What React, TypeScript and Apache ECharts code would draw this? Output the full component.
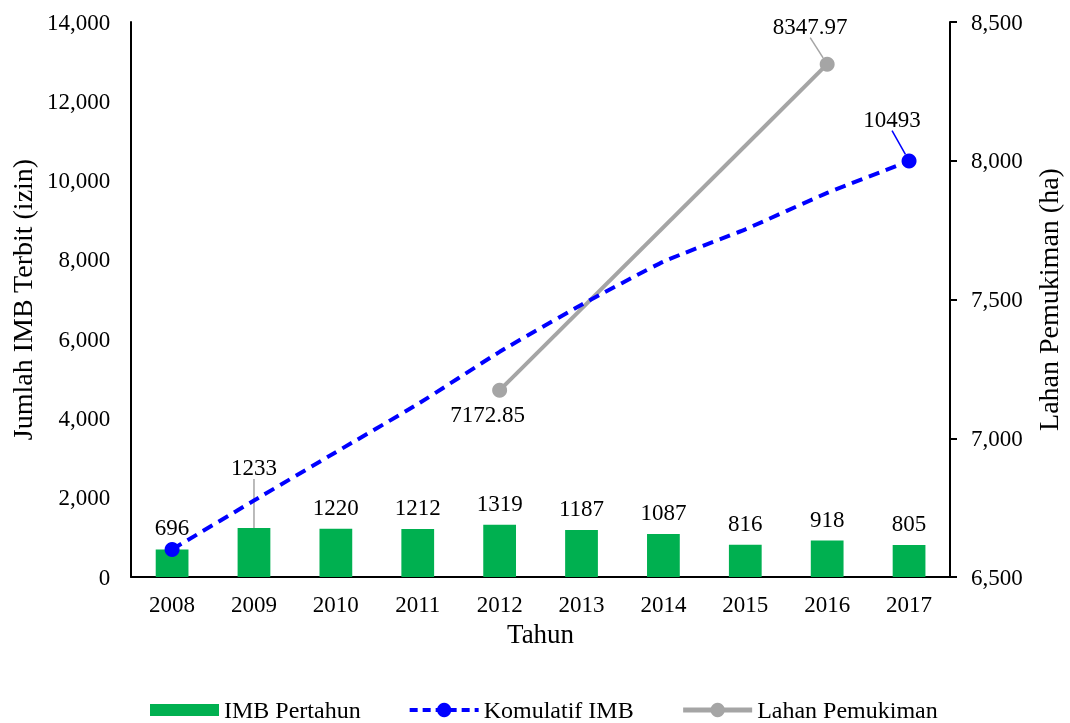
import React, { useEffect, useRef } from "react";
import * as echarts from "echarts";

const years = ["2008", "2009", "2010", "2011", "2012", "2013", "2014", "2015", "2016", "2017"];
const imbPerYear = [696, 1233, 1220, 1212, 1319, 1187, 1087, 816, 918, 805];
const imbCumulative = [696, 1929, 3149, 4361, 5680, 6867, 7954, 8770, 9688, 10493];
const lahanPemukiman: (number | null)[] = [null, null, null, null, 7172.85, null, null, null, 8347.97, null];

const FONT = '"Liberation Serif", "Times New Roman", serif';
const fmt = (v: number) => v.toLocaleString("en-US");

export default function App() {
  const ref = useRef<HTMLDivElement>(null);
  useEffect(() => {
    if (!ref.current) return;
    const chart = echarts.init(ref.current, null, { renderer: "svg" });
    const last = imbCumulative.length - 1;
    chart.setOption({
      animation: false,
      textStyle: { fontFamily: FONT, color: "#000" },
      grid: { left: 131, right: 118, top: 22, bottom: 146, containLabel: false },
      legend: {
        left: 150,
        top: 698,
        padding: 0,
        itemWidth: 69,
        itemHeight: 18,
        itemGap: 47,
        textStyle: { fontFamily: FONT, fontSize: 24, color: "#000" },
        data: [
          { name: "IMB Pertahun", icon: "path://M0,0L0,0M0,3L69,3L69,15L0,15ZM0,18L0,18" },
          { name: "Komulatif IMB", lineStyle: { width: 4, type: [8, 5] } },
          { name: "Lahan Pemukiman", lineStyle: { width: 5 } },
        ],
      },
      xAxis: {
        type: "category",
        data: years,
        name: "Tahun",
        nameLocation: "middle",
        nameGap: 37,
        nameTextStyle: { fontFamily: FONT, fontSize: 27, color: "#000" },
        axisLine: { lineStyle: { color: "#000", width: 2 } },
        axisTick: { show: false },
        axisLabel: { fontFamily: FONT, fontSize: 23, color: "#000", margin: 16 },
      },
      yAxis: [
        {
          type: "value",
          min: 0,
          max: 14000,
          interval: 2000,
          name: "Jumlah IMB Terbit (izin)",
          nameLocation: "middle",
          nameGap: 88,
          nameTextStyle: { fontFamily: FONT, fontSize: 28, color: "#000" },
          axisLine: { show: true, lineStyle: { color: "#000", width: 2 } },
          axisTick: { show: false },
          splitLine: { show: false },
          axisLabel: { fontFamily: FONT, fontSize: 23, color: "#000", margin: 21, formatter: fmt },
        },
        {
          type: "value",
          min: 6500,
          max: 8500,
          interval: 500,
          position: "right",
          name: "Lahan Pemukiman (ha)",
          nameLocation: "middle",
          nameGap: 84,
          nameTextStyle: { fontFamily: FONT, fontSize: 28, color: "#000" },
          axisLine: { show: true, lineStyle: { color: "#000", width: 2 } },
          axisTick: { show: true, inside: false, length: 7, lineStyle: { color: "#000", width: 2 } },
          splitLine: { show: false },
          axisLabel: { fontFamily: FONT, fontSize: 23, color: "#000", margin: 21, formatter: fmt },
        },
      ],
      series: [
        {
          name: "IMB Pertahun",
          type: "bar",
          data: imbPerYear.map((v, i) => ({
            value: v,
            labelLine: { show: i === 1 },
          })),
          barWidth: "40%",
          itemStyle: { color: "#00B050" },
          label: {
            show: true,
            position: "top",
            distance: 10,
            fontFamily: FONT,
            fontSize: 23,
            color: "#000",
          },
          labelLine: { lineStyle: { color: "#A5A5A5", width: 1.5 } },
          labelLayout: (p: any) => (p.dataIndex === 1 ? { dy: -39 } : {}),
          z: 1,
        },
        {
          name: "Komulatif IMB",
          type: "line",
          data: imbCumulative.map((v, i) => ({
            value: v,
            symbol: i === 0 || i === last ? "circle" : "none",
            label: { show: i === last },
            labelLine: { show: i === last },
          })),
          symbol: "circle",
          symbolSize: 15,
          smooth: 0.15,
          itemStyle: { color: "#0000FF" },
          lineStyle: { color: "#0000FF", width: 4, type: [11, 7] },
          label: {
            position: "top",
            distance: 5,
            fontFamily: FONT,
            fontSize: 23,
            color: "#000",
          },
          labelLine: { lineStyle: { color: "#0000FF", width: 1.5 } },
          labelLayout: (p: any) => (p.dataIndex === last ? { dx: -17, dy: -18 } : {}),
          z: 3,
        },
        {
          name: "Lahan Pemukiman",
          type: "line",
          yAxisIndex: 1,
          data: lahanPemukiman.map((v, i) => ({
            value: v === null ? "-" : v,
            label: i === 4 ? { show: true, position: "bottom" } : { show: true, position: "top" },
            labelLine: { show: i === 8 },
          })),
          connectNulls: true,
          symbol: "circle",
          symbolSize: 15,
          itemStyle: { color: "#A5A5A5" },
          lineStyle: { color: "#A5A5A5", width: 4 },
          label: {
            show: true,
            distance: 5,
            fontFamily: FONT,
            fontSize: 23,
            color: "#000",
          },
          labelLine: { lineStyle: { color: "#A5A5A5", width: 1.5 } },
          labelLayout: (p: any) =>
            p.dataIndex === 8 ? { dx: -17, dy: -14 } : p.dataIndex === 4 ? { dx: -12 } : {},
          z: 2,
        },
      ],
    });
    return () => chart.dispose();
  }, []);
  return (
    <div
      ref={ref}
      style={{ position: "fixed", left: 0, top: 0, width: 1070, height: 723 }}
    />
  );
}
